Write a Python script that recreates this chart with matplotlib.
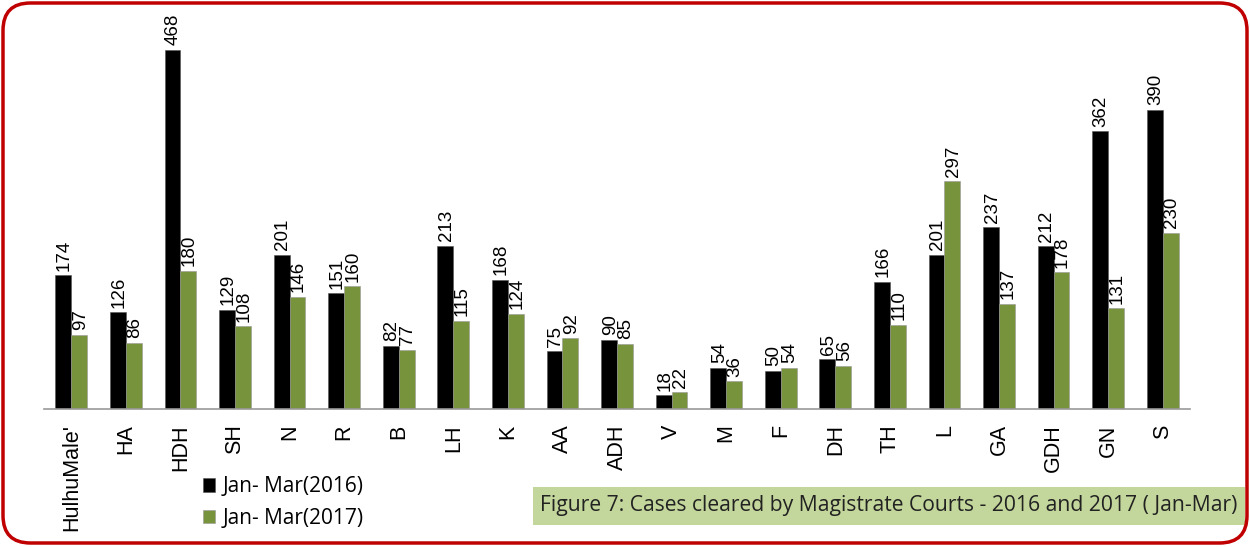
import matplotlib
matplotlib.use("Agg")
import matplotlib.pyplot as plt
import numpy as np
from matplotlib.patches import FancyBboxPatch, Rectangle

categories = ["HulhuMale'", "HA", "HDH", "SH", "N", "R", "B", "LH", "K", "AA", "ADH",
              "V", "M", "F", "DH", "TH", "L", "GA", "GDH", "GN", "S"]
values_2016 = [174, 126, 468, 129, 201, 151, 82, 213, 168, 75, 90, 18, 54, 50, 65, 166, 201, 237, 212, 362, 390]
values_2017 = [97, 86, 180, 108, 146, 160, 77, 115, 124, 92, 85, 22, 36, 54, 56, 110, 297, 137, 178, 131, 230]
series_labels = ["Jan- Mar(2016)", "Jan- Mar(2017)"]
caption = "Figure 7: Cases cleared by Magistrate Courts - 2016 and 2017 ( Jan-Mar)"

c16 = "#000000"
c17 = "#77933c"

fig = plt.figure(figsize=(12.5, 5.47), dpi=100)
ax = fig.add_axes([0.0352, 0.2523, 0.9168, 0.7013])

x = np.arange(len(categories))
w = 0.29
b1 = ax.bar(x - w/2, values_2016, w, color=c16, edgecolor="#555555", linewidth=0.4, label=series_labels[0])
b2 = ax.bar(x + w/2, values_2017, w, color=c17, edgecolor="#999999", linewidth=0.4, label=series_labels[1])

for bars, vals in ((b1, values_2016), (b2, values_2017)):
    for r, v in zip(bars, vals):
        ax.text(r.get_x() + r.get_width()/2 + 0.02, v + 6, str(v), rotation=90, ha="center", va="bottom",
                fontsize=13.5, family="Liberation Sans", clip_on=False)

ax.set_xlim(-0.5, len(categories) - 0.5)
ax.set_ylim(0, 500)
ax.set_xticks(x)
ax.set_xticklabels(categories, rotation=90, fontsize=15.5, family="Liberation Sans")
ax.tick_params(axis="x", length=0, pad=11)
ax.set_yticks([])
for s in ("top", "right", "left"):
    ax.spines[s].set_visible(False)
ax.spines["bottom"].set_color("#999999")
ax.spines["bottom"].set_linewidth(1.2)

leg = fig.legend(handles=[b1, b2], labels=series_labels, loc="upper left",
                 bbox_to_anchor=(0.162, 0.129), frameon=False,
                 handlelength=0.6, handleheight=0.6, handletextpad=0.35, labelspacing=0.5,
                 borderaxespad=0, borderpad=0,
                 prop={"family": "Open Sans", "size": 15})

# caption box
fig.patches.append(Rectangle((533/1250, 1 - 525/547), (1245-533)/1250, (525-487)/547,
                             transform=fig.transFigure, facecolor="#c3d69b", edgecolor="none", zorder=1))
fig.text(540/1250, 1 - 506/547, caption, ha="left", va="center", fontsize=15.2,
         family="Open Sans", color="#222222", zorder=2)

# rounded red border
fig.patches.append(FancyBboxPatch((3/1250, 4/547), 1244/1250, 540/547,
                                  boxstyle="round,pad=0,rounding_size=0.022",
                                  transform=fig.transFigure, facecolor="none",
                                  edgecolor="#c00000", linewidth=2.5, zorder=3,
                                  mutation_aspect=1250/547))

fig.savefig("out.png", dpi=100)
